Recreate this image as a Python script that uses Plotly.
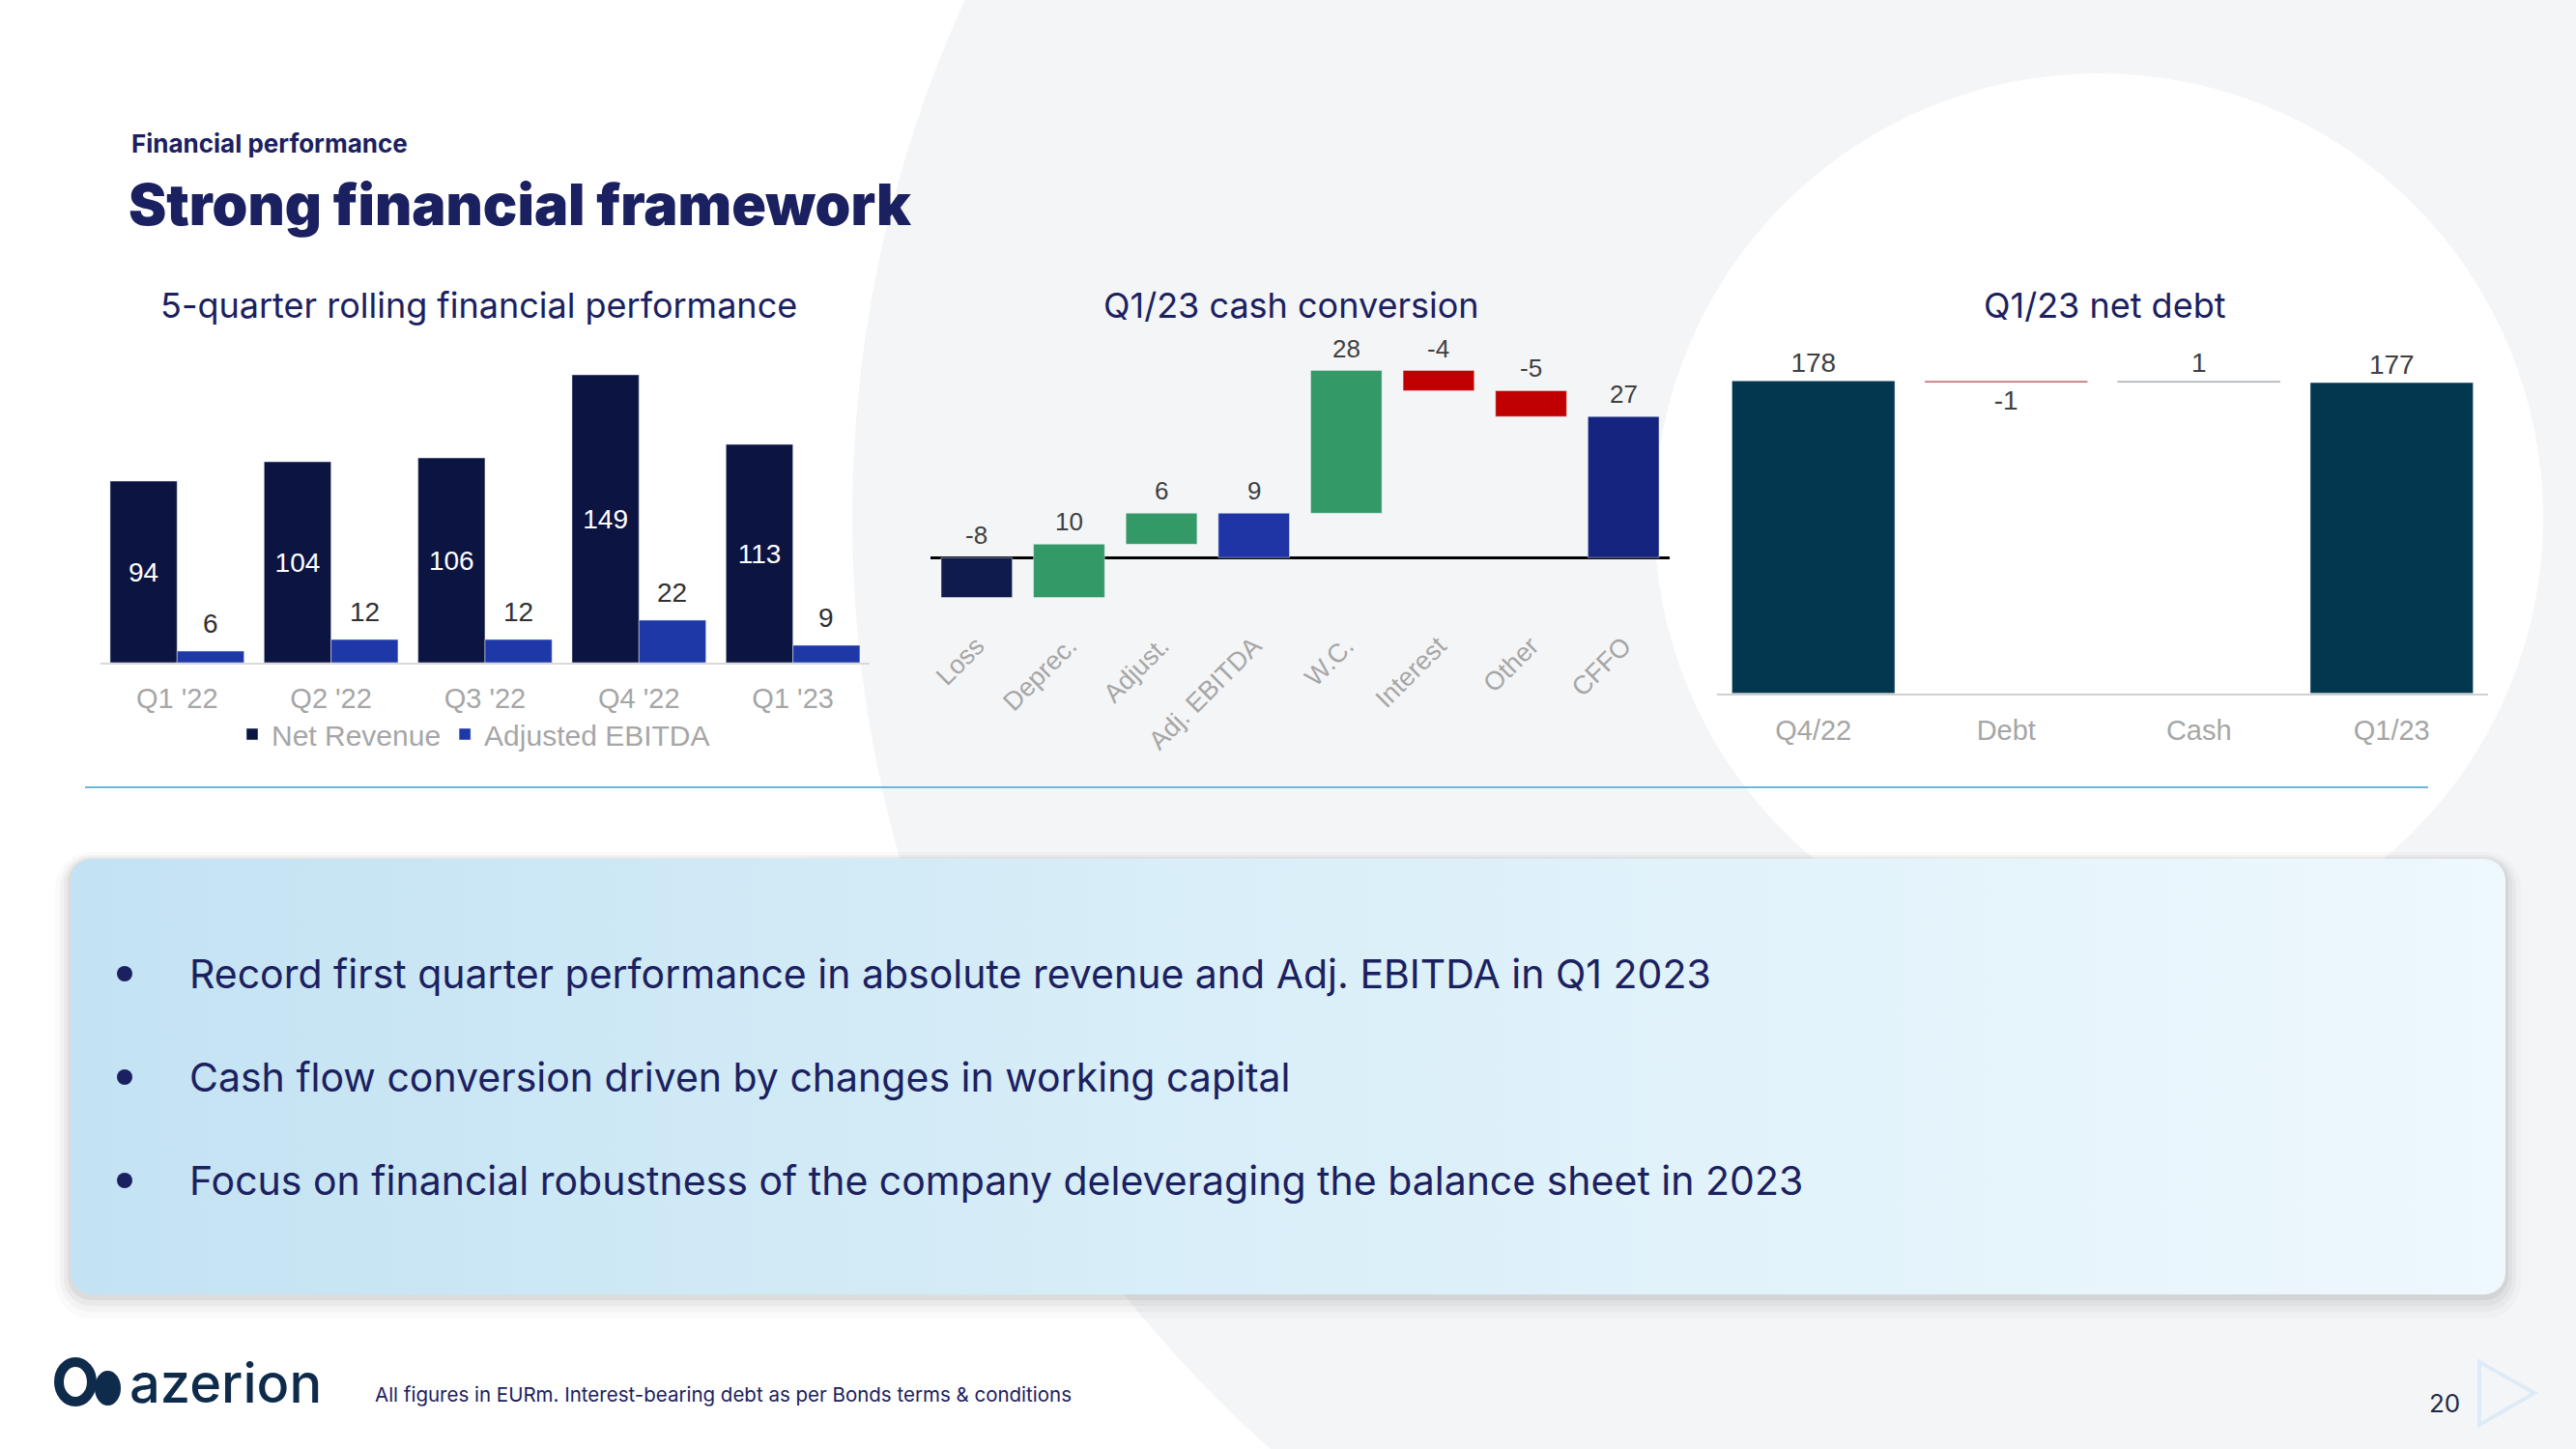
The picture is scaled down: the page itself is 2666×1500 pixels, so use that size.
import numpy as np
import plotly.graph_objects as go

W, H = 2666, 1500

# ---------------- data ----------------
quarters = ["Q1 '22", "Q2 '22", "Q3 '22", "Q4 '22", "Q1 '23"]
net_revenue = [94, 104, 106, 149, 113]
adjusted_ebitda = [6, 12, 12, 22, 9]

cash_steps = ["Loss", "Deprec.", "Adjust.", "Adj. EBITDA", "W.C.", "Interest", "Other", "CFFO"]
cash_values = [-7.7, 10.3, 6.0, 8.6, 27.6, -3.9, -5.0, 27.3]
cash_measures = ["relative", "relative", "relative", "total", "relative", "relative", "relative", "total"]
cash_colors = ["#0F1B4C", "#339966", "#339966", "#1F35A6", "#339966", "#C00000", "#C00000", "#15257F"]

debt_steps = ["Q4/22", "Debt", "Cash", "Q1/23"]
debt_values = [178, -1, 1, 177]
debt_measures = ["total", "relative", "relative", "total"]
debt_colors = ["#02374F", "#C0504D", "#A5A5A5", "#02374F"]

bullet_points = [
    "Record first quarter performance in absolute revenue and Adj. EBITDA in Q1 2023",
    "Cash flow conversion driven by changes in working capital",
    "Focus on financial robustness of the company deleveraging the balance sheet in 2023",
]

# ---------------- styles ----------------
NAVY = "#1B2160"
GRAY_LBL = "#A6A6A6"
DARK_LBL = "#404040"
UI = "Inter, Lato, 'Open Sans', sans-serif"
CH = "'Liberation Sans', Arial, sans-serif"


def px(x):
    return x / W


def py(y):
    return 1 - y / H


def bridge(values, measures):
    bases, running = [], 0.0
    for v, m in zip(values, measures):
        if m == "total":
            bases.append(0.0)
            running = v
        else:
            bases.append(running)
            running += v
    return bases


cash_bases = bridge(cash_values, cash_measures)
debt_bases = bridge(debt_values, debt_measures)

fig = go.Figure()

# ---- left: 5-quarter rolling ----
fig.add_trace(go.Bar(
    x=quarters, y=net_revenue, name="Net Revenue", marker_color="#0C1442",
    text=[str(v) for v in net_revenue], textposition="inside", insidetextanchor="middle",
    textangle=0, constraintext="none",
    textfont=dict(family=CH, size=28, color="white"),
    xaxis="x", yaxis="y", hoverinfo="skip"))
fig.add_trace(go.Bar(
    x=quarters, y=adjusted_ebitda, name="Adjusted EBITDA", marker_color="#1F38A8",
    xaxis="x", yaxis="y", hoverinfo="skip"))

# ---- middle: cash conversion bridge ----
fig.add_trace(go.Bar(
    x=cash_steps, y=cash_values, base=cash_bases, marker_color=cash_colors,
    width=0.77, xaxis="x2", yaxis="y2", showlegend=False, hoverinfo="skip"))

# ---- right: net debt bridge ----
fig.add_trace(go.Bar(
    x=debt_steps, y=debt_values, base=debt_bases, marker_color=debt_colors,
    width=0.845, text=[f"{v:.0f}" for v in debt_values], textposition="outside",
    textangle=0, constraintext="none", cliponaxis=False,
    textfont=dict(family=CH, size=28, color=DARK_LBL),
    xaxis="x3", yaxis="y3", showlegend=False, hoverinfo="skip"))


# ---- text box with gradient (overlay pixel axis) ----
def rr_points(x0, y0, x1, y1, r, n=14):
    pts = []
    corners = [(x1 - r, y0 + r, -90, 0), (x1 - r, y1 - r, 0, 90),
               (x0 + r, y1 - r, 90, 180), (x0 + r, y0 + r, 180, 270)]
    for cx, cy, a0, a1 in corners:
        for t in np.linspace(np.radians(a0), np.radians(a1), n):
            pts.append((cx + r * np.cos(t), cy + r * np.sin(t)))
    pts.append(pts[0])
    return pts


BOX = (73, 889, 2593, 1340)
box_pts = rr_points(*BOX, 22)
fig.add_trace(go.Scatter(
    x=[p[0] for p in box_pts], y=[p[1] for p in box_pts], mode="lines", fill="toself",
    line=dict(width=0, color="rgba(0,0,0,0)"),
    fillgradient=dict(type="horizontal",
                      colorscale=[[0, "#C3E2F3"], [0.45, "#D8EEF8"], [1, "#EEF8FD"]]),
    xaxis="x4", yaxis="y4", showlegend=False, hoverinfo="skip"))


def paper_path(pts):
    s = "M " + " L ".join(f"{px(x):.5f},{py(y):.5f}" for x, y in pts)
    return s + " Z"


shapes = []
# faint watermark ring
cx, cy = 2172, 536
for r, col in [(1290, "#F4F5F7"), (460, "#FFFFFF")]:
    shapes.append(dict(type="circle", xref="paper", yref="paper", layer="below",
                       x0=px(cx - r), x1=px(cx + r), y0=py(cy + r), y1=py(cy - r),
                       fillcolor=col, line=dict(width=0)))
# box shadow
for grow, shift, alpha in [(16, 9, 0.025), (11, 7, 0.035), (7, 5, 0.05), (3, 3, 0.07)]:
    x0, y0, x1, y1 = BOX
    pts = rr_points(x0 - grow, y0 - grow + shift, x1 + grow, y1 + grow + shift, 22 + grow)
    shapes.append(dict(type="path", xref="paper", yref="paper", layer="below",
                       path=paper_path(pts), fillcolor=f"rgba(60,60,60,{alpha})",
                       line=dict(width=0)))
# divider line
shapes.append(dict(type="line", xref="paper", yref="paper", x0=px(88), x1=px(2513),
                   y0=py(815), y1=py(815), line=dict(color="#6CB7D7", width=2)))
# bullets
for yb in [1008, 1115, 1222]:
    shapes.append(dict(type="circle", xref="paper", yref="paper", layer="above",
                       x0=px(121), x1=px(137), y0=py(yb + 8), y1=py(yb - 8),
                       fillcolor=NAVY, line=dict(width=0)))
# logo icon
LOGO = "#0F2B4C"
shapes.append(dict(type="circle", xref="paper", yref="paper", layer="above",
                   x0=px(61), x1=px(95), y0=py(1451), y1=py(1410),
                   fillcolor="rgba(0,0,0,0)", line=dict(color=LOGO, width=10)))
shapes.append(dict(type="circle", xref="paper", yref="paper", layer="above",
                   x0=px(98), x1=px(125), y0=py(1455), y1=py(1419),
                   fillcolor=LOGO, line=dict(width=0)))
# page arrow
shapes.append(dict(type="path", xref="paper", yref="paper", layer="above",
                   path=paper_path([(2566, 1410), (2623, 1442), (2566, 1475)]),
                   fillcolor="rgba(0,0,0,0)", line=dict(color="#DDEBF7", width=4)))

annotations = []


def ann(text, x, y, size, color=NAVY, family=UI, xanchor="left", weight=None, yanchor="middle"):
    f = dict(family=family, size=size, color=color)
    if weight:
        f["weight"] = weight
    annotations.append(dict(text=text, x=px(x), y=py(y), xref="paper", yref="paper",
                            xanchor=xanchor, yanchor=yanchor, showarrow=False, font=f))


ann("Financial performance", 134, 148, 26, weight=700)
ann("Strong financial framework", 131, 211, 59, weight=900)
ann("5-quarter rolling financial performance", 495, 316, 36, xanchor="center")
ann("Q1/23 cash conversion", 1336, 316, 36, xanchor="center")
ann("Q1/23 net debt", 2178, 316, 36, xanchor="center")
for t, yb in zip(bullet_points, [1008, 1115, 1222]):
    ann(t, 194, yb, 41)
ann("All figures in EURm. Interest-bearing debt as per Bonds terms & conditions", 386, 1443, 20.5)
ann("20", 2530, 1452, 26, color="#1D2A45", xanchor="center")
ann("azerion", 132, 1432, 56, color=LOGO, weight=500)

# data labels: adjusted EBITDA (above right-hand bar of each group)
for q, v in zip(quarters, adjusted_ebitda):
    annotations.append(dict(text=str(v), x=q, y=v, xref="x", yref="y", xshift=34.6, yshift=11,
                            xanchor="center", yanchor="bottom", showarrow=False,
                            font=dict(family=CH, size=28, color="#303030")))
# data labels: cash bridge (above each floating bar)
for s, v, b in zip(cash_steps, cash_values, cash_bases):
    annotations.append(dict(text=f"{v:.0f}", x=s, y=max(b, b + v), xref="x2", yref="y2", yshift=6,
                            xanchor="center", yanchor="bottom", showarrow=False,
                            font=dict(family=CH, size=26, color=DARK_LBL)))

tick_font = dict(family=CH, size=29, color=GRAY_LBL)
fig.update_layout(
    width=W, height=H, margin=dict(l=0, r=0, t=0, b=0),
    paper_bgcolor="white", plot_bgcolor="rgba(0,0,0,0)",
    barmode="group", bargap=0.13, bargroupgap=0,
    showlegend=True,
    legend=dict(orientation="h", x=px(241), xanchor="left", y=py(760), yanchor="middle",
                font=dict(family=CH, size=30, color=GRAY_LBL), bgcolor="rgba(0,0,0,0)",
                itemwidth=30, tracegroupgap=0),
    xaxis=dict(domain=[px(103.6), px(900.3)], anchor="y", type="category",
               showline=True, linecolor="#D9D9D9", linewidth=2, showgrid=False,
               ticks="", tickfont=tick_font, ticklabelstandoff=10, fixedrange=True),
    yaxis=dict(domain=[py(686), py(366)], anchor="x", range=[0, 160], visible=False),
    xaxis2=dict(domain=[px(963), px(1728)], anchor="y2", type="category",
                showline=False, showgrid=False, ticks="", tickangle=-45,
                tickfont=dict(family=CH, size=27, color=GRAY_LBL), ticklabelstandoff=5),
    yaxis2=dict(domain=[py(641.5), py(360)], anchor="x2", range=[-12.0, 40.6],
                showgrid=False, showticklabels=False, ticks="", showline=False,
                zeroline=True, zerolinecolor="#000000", zerolinewidth=2.5),
    xaxis3=dict(domain=[px(1777), px(2575)], anchor="y3", type="category",
                showline=True, linecolor="#D0D0D0", linewidth=2, showgrid=False,
                ticks="", tickfont=tick_font, ticklabelstandoff=11),
    yaxis3=dict(domain=[py(717.7), py(372.5)], anchor="x3", range=[0, 190], visible=False),
    xaxis4=dict(domain=[0, 1], anchor="y4", range=[0, W], visible=False, fixedrange=True),
    yaxis4=dict(domain=[0, 1], anchor="x4", range=[H, 0], visible=False, fixedrange=True),
    shapes=shapes,
    annotations=annotations,
)

fig.write_html(
    "out.html",
    config={"displayModeBar": False},
    post_script="document.body.style.margin='0';document.body.style.overflow='hidden';",
)
